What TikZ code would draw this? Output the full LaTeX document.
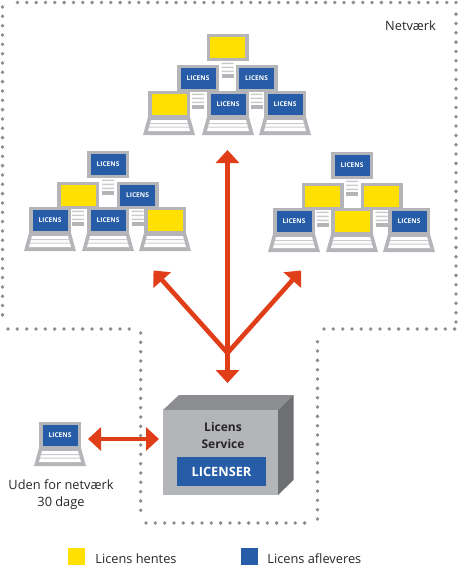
\documentclass[tikz,border=0pt]{standalone}
\usepackage{fontspec}
\setmainfont{Open Sans}
\usetikzlibrary{positioning,calc,arrows.meta}
\definecolor{LicensYellow}{RGB}{255,224,0}
\definecolor{LicensBlue}{RGB}{38,92,168}
\definecolor{LicensGray}{RGB}{180,181,184}
\definecolor{LicensDark}{RGB}{140,141,144}
\definecolor{LicensSide}{RGB}{110,111,114}
\definecolor{LicensRed}{RGB}{224,62,24}
\definecolor{DotGray}{RGB}{140,140,142}
\tikzset{
    screen/.style={rectangle, inner sep=0pt, minimum width=35pt, minimum height=21pt,
                   text=white, font=\fontsize{6.6}{7}\selectfont\bfseries},
    hentes/.style={screen, fill=LicensYellow},
    afleveres/.style={screen, fill=LicensBlue},
    caption/.style={font=\fontsize{12.8}{14}\selectfont, text=black!85, inner sep=0pt},
    swatch/.style={rectangle, inner sep=0pt, minimum size=17pt},
    % Arrow styles
    flow/.style={draw=LicensRed, line width=4.6pt,
                 {Triangle[width=23pt,length=13pt]}-{Triangle[width=23pt,length=13pt]}},
    flowout/.style={draw=LicensRed, line width=4.6pt, -{Triangle[width=23pt,length=13pt]}},
    netline/.style={draw=DotGray, line width=3.8pt, line cap=round, dash pattern=on 0pt off 9.33pt},
    pics/desktop/.style 2 args={code={
        \fill[LicensGray] (-21,0) rectangle (21,27);
        \fill[white] (-6.5,27.5) rectangle (6.5,44.5);
        \fill[LicensGray!70] (-6,28.5) rectangle (6,30) (-6,32.5) rectangle (6,34) (-6,36.5) rectangle (6,38);
        \fill[LicensGray] (-6,40) rectangle (6,44);
        \node[#1] (screen) at (0,13.5) {#2};
    }},
    pics/laptop/.style 2 args={code={
        \fill[LicensGray] (-21,0) rectangle (21,27);
        \fill[LicensGray] (-21,26) -- (21,26) -- (26,44) -- (-26,44) -- cycle;
        \fill[white] (-18,29) -- (18,29) -- (21,40) -- (-21,40) -- cycle;
        \fill[LicensGray!70] (-19,32) rectangle (19,33) (-20,35.5) rectangle (20,36.5);
        \node[#1] (screen) at (0,13.5) {#2};
    }}
}
\begin{document}
\begin{tikzpicture}[x=1pt, y=-1pt]
    \useasboundingbox (0,0) rectangle (458,566);

    % Network border
    \draw[netline] (2.5,7) -- (2.5,324) (8,329) -- (135,329)
        (140.7,333) -- (140.7,519) (146,523) -- (312,523)
        (317.5,519) -- (317.5,333) (324,329) -- (456,329)
        (456,322) -- (456,8) (456,2.5) -- (9,2.5);
    \node[caption, anchor=west] (netlabel) at (385,26) {Netværk};

    % Top group
    \pic (ta) at (227.5,34) {desktop={hentes}{}};
    \pic (tb) at (198,65) {desktop={afleveres}{LICENS}};
    \pic (tc) at (256.5,65) {desktop={afleveres}{LICENS}};
    \pic (td) at (169,91) {laptop={hentes}{}};
    \pic (te) at (228,91) {laptop={afleveres}{LICENS}};
    \pic (tf) at (285,91) {laptop={afleveres}{LICENS}};

    % Left group
    \pic (la) at (108,151) {desktop={afleveres}{LICENS}};
    \pic (lb) at (78,182) {desktop={hentes}{}};
    \pic (lc) at (137.5,182) {desktop={afleveres}{LICENS}};
    \pic (ld) at (50,207) {laptop={afleveres}{LICENS}};
    \pic (le) at (108,207) {laptop={afleveres}{LICENS}};
    \pic (lf) at (165,207) {laptop={hentes}{}};

    % Right group
    \pic (ra) at (352,152) {desktop={afleveres}{LICENS}};
    \pic (rb) at (322.5,183) {desktop={hentes}{}};
    \pic (rc) at (381.5,183) {desktop={hentes}{}};
    \pic (rd) at (294,208) {laptop={afleveres}{LICENS}};
    \pic (re) at (352,208) {laptop={hentes}{}};
    \pic (rf) at (409,208) {laptop={afleveres}{LICENS}};

    % Service box
    \fill[LicensDark] (163,410) -- (179,395) -- (293.5,395) -- (278,410) -- cycle;
    \fill[LicensSide] (278,410) -- (293.5,395) -- (293.5,480) -- (278,495) -- cycle;
    \node[rectangle, fill=LicensGray, minimum width=115pt, minimum height=85pt, inner sep=0pt,
          anchor=north west] (service) at (163,410) {};
    \node[caption, font=\fontsize{12}{17}\selectfont\bfseries, align=center] (servicelabel)
        at (223,435.5) {Licens\\Service};
    \node[rectangle, fill=LicensBlue, minimum width=89pt, minimum height=29pt, inner sep=0pt,
          text=white, font=\fontsize{12.8}{14}\selectfont\bfseries] (licenser) at (221.5,471.5) {LICENSER};

    % Outside laptop
    \pic (ud) at (60,422) {laptop={afleveres}{LICENS}};
    \node[caption, align=center, font=\fontsize{12.8}{17}\selectfont] (udlabel) at (61,494.5)
        {Uden for netværk\\30 dage};

    % Arrows
    \coordinate (hub) at (227.5,353);
    \coordinate (up) at (227.5,150);
    \coordinate (down) at (227.5,383);
    \coordinate (upleft) at (153.5,270.5);
    \coordinate (upright) at (301,270.5);
    \coordinate (udright) at (88,439);
    \coordinate (boxleft) at (159,439);
    \draw[flowout] (hub) -- (up);
    \draw[flowout] (hub) -- (down);
    \draw[flowout] (hub) -- (upleft);
    \draw[flowout] (hub) -- (upright);
    \draw[flow] (udright) -- (boxleft);

    % Legend
    \node[swatch, fill=LicensYellow] (hentesbox) at (76.5,556) {};
    \node[caption, right=10pt of hentesbox, yshift=-3pt] (henteslabel) {Licens hentes};
    \node[swatch, fill=LicensBlue] (afleveresbox) at (249.5,556) {};
    \node[caption, right=9pt of afleveresbox, yshift=-3pt] (afleveslabel) {Licens afleveres};
\end{tikzpicture}
\end{document}
